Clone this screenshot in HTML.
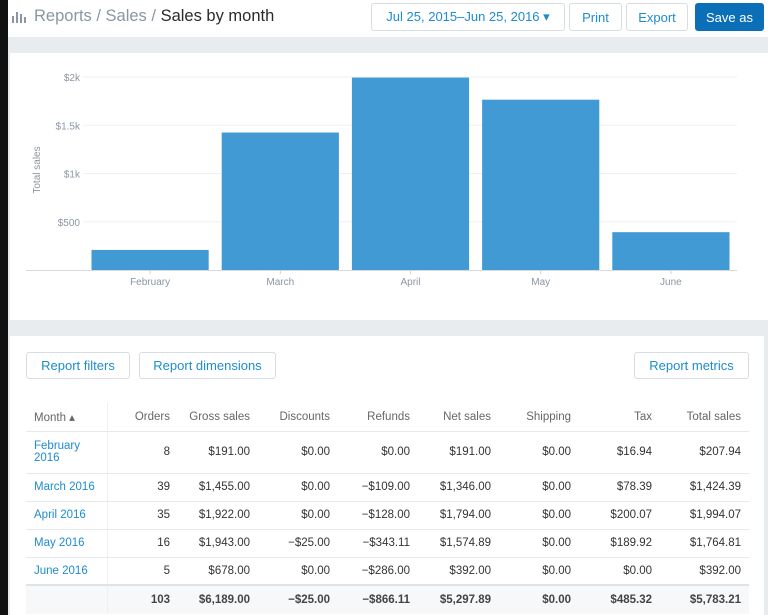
<!DOCTYPE html>
<html><head><meta charset="utf-8">
<style>
*{box-sizing:border-box;margin:0;padding:0}
body{width:768px;height:615px;overflow:hidden;background:#e9ecef;font-family:"Liberation Sans",sans-serif;position:relative}
.strip{position:absolute;left:0;top:0;width:8px;height:615px;background:#111}
.top{position:absolute;left:8px;top:0;width:760px;height:37px;background:#fff}
.title{position:absolute;left:34px;top:7px;font-size:16.5px;color:#8a96a3}
.title b{font-weight:normal;color:#2a2a2a}
.btn{position:absolute;border:1px solid #d8dde2;border-radius:3px;background:#fff;color:#1d8bd1;font-size:13px;display:flex;align-items:center;justify-content:center}
.card{position:absolute;background:#fff}
table{position:absolute;left:26px;top:403px;width:723px;border-collapse:collapse;font-size:11.5px;color:#333}
td,th{text-align:right;padding:0 8px 0 0;font-weight:normal}
th{color:#666;height:28px;border-bottom:1px solid #e6e9ec}
td{border-bottom:1px solid #e6e9ec}
td:first-child,th:first-child{text-align:left;padding-left:8px;border-right:1px solid #eef0f2}
td:first-child{color:#1d8bd1}
tr.tot td{background:#f7f8f9;font-weight:bold;color:#444;border-bottom:none;border-top:2px solid #e0e3e6}
</style></head><body>
<div class="strip"></div>
<div class="top"></div>
<svg style="position:absolute;left:12px;top:10px" width="14" height="14"><rect x="0" y="6" width="2" height="7" fill="#8a96a3"/><rect x="4" y="2" width="2" height="11" fill="#8a96a3"/><rect x="8" y="4" width="2" height="9" fill="#8a96a3"/><rect x="12" y="7" width="2" height="6" fill="#8a96a3"/></svg>
<div class="title">Reports / Sales / <b>Sales by month</b></div>
<div class="btn" style="left:371px;top:3px;width:194px;height:28px">Jul 25, 2015–Jun 25, 2016 &#9662;</div>
<div class="btn" style="left:569px;top:3px;width:53px;height:28px">Print</div>
<div class="btn" style="left:626px;top:3px;width:62px;height:28px">Export</div>
<div class="btn" style="left:695px;top:3px;width:69px;height:28px;background:#0b6fb8;color:#fff;border-color:#0b6fb8">Save as</div>

<div class="card" style="left:10px;top:53px;width:758px;height:267px"></div>
<svg id="chart" style="position:absolute;left:0;top:0" width="768" height="320"></svg>

<div class="card" style="left:10px;top:336px;width:754px;height:279px"></div>
<div class="btn" style="left:26px;top:352px;width:104px;height:27px">Report filters</div>
<div class="btn" style="left:139px;top:352px;width:137px;height:27px">Report dimensions</div>
<div class="btn" style="left:634px;top:352px;width:115px;height:27px">Report metrics</div>

<table>
<colgroup><col style="width:81px"><col style="width:71px"><col style="width:80px"><col style="width:80px"><col style="width:80px"><col style="width:81px"><col style="width:80px"><col style="width:81px"><col style="width:89px"></colgroup>
<tr><th>Month &#9652;</th><th>Orders</th><th>Gross sales</th><th>Discounts</th><th>Refunds</th><th>Net sales</th><th>Shipping</th><th>Tax</th><th>Total sales</th></tr>
<tr style="height:42px"><td>February<br>2016</td><td>8</td><td>$191.00</td><td>$0.00</td><td>$0.00</td><td>$191.00</td><td>$0.00</td><td>$16.94</td><td>$207.94</td></tr>
<tr style="height:28px"><td>March 2016</td><td>39</td><td>$1,455.00</td><td>$0.00</td><td>−$109.00</td><td>$1,346.00</td><td>$0.00</td><td>$78.39</td><td>$1,424.39</td></tr>
<tr style="height:28px"><td>April 2016</td><td>35</td><td>$1,922.00</td><td>$0.00</td><td>−$128.00</td><td>$1,794.00</td><td>$0.00</td><td>$200.07</td><td>$1,994.07</td></tr>
<tr style="height:28px"><td>May 2016</td><td>16</td><td>$1,943.00</td><td>−$25.00</td><td>−$343.11</td><td>$1,574.89</td><td>$0.00</td><td>$189.92</td><td>$1,764.81</td></tr>
<tr style="height:28px"><td>June 2016</td><td>5</td><td>$678.00</td><td>$0.00</td><td>−$286.00</td><td>$392.00</td><td>$0.00</td><td>$0.00</td><td>$392.00</td></tr>
<tr class="tot" style="height:29px"><td></td><td>103</td><td>$6,189.00</td><td>−$25.00</td><td>−$866.11</td><td>$5,297.89</td><td>$0.00</td><td>$485.32</td><td>$5,783.21</td></tr>
</table>

<script>
const categories=["February","March","April","May","June"];
const totalSales=[207.94,1424.39,1994.07,1764.81,392.00];
const tickValues=[500,1000,1500,2000];
const tickLabels=["$500","$1k","$1.5k","$2k"];
const svg=document.getElementById('chart');
const NS='http://www.w3.org/2000/svg';
const x0=85,x1=736,y0=270,yTop=77,maxV=2000;
const band=(x1-x0)/categories.length,pad=0.1;
const y=v=>y0-(v/maxV)*(y0-yTop);
const xb=i=>x0+i*band+band*pad/2;
function mk(tag,a){const e=document.createElementNS(NS,tag);for(const k in a)e.setAttribute(k,a[k]);svg.appendChild(e);return e;}
tickValues.forEach((v,i)=>{
 const l=mk('line',{x1:83,x2:737,y1:y(v),y2:y(v),stroke:'#eef0f2'});
 
 
 const t=mk('text',{x:80,y:y(v)+4,'text-anchor':'end','font-size':10,fill:'#8a96a3','font-family':'Liberation Sans'});
 t.textContent=tickLabels[i];
 
 
});
categories.forEach((c,i)=>{
 const r=mk('rect',{x:xb(i),y:y(totalSales[i]),width:band*(1-pad),height:y0-y(totalSales[i]),fill:'#419ad3'});
 
 
 const cx=x0+i*band+band/2;
 mk('line',{x1:cx,x2:cx,y1:y0,y2:y0+4,stroke:'#ccd1d6'});
 const t=mk('text',{x:cx,y:285,'text-anchor':'middle','font-size':10,fill:'#8a96a3','font-family':'Liberation Sans'});
 t.textContent=c;
 
 
});
const base=mk('line',{x1:26,x2:737,y1:y0+0.5,y2:y0+0.5,stroke:'#d6dadf'});


const yt=mk('text',{x:0,y:0,transform:'translate(40,170) rotate(-90)','text-anchor':'middle','font-size':10,fill:'#8a96a3','font-family':'Liberation Sans'});
yt.textContent='Total sales';


</script>
</body></html>
